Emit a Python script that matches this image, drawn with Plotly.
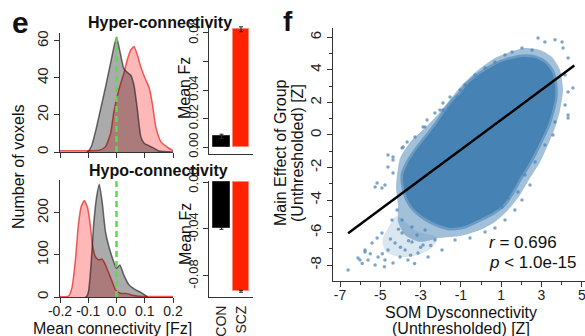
import plotly.graph_objects as go

# ---------------- Panel e : density curves ----------------
hyper_con_x = [-0.105, -0.099, -0.087, -0.073, -0.057, -0.039, -0.021, 0.0, 0.014, 0.026, 0.038, 0.05, 0.062, 0.074, 0.086, 0.098, 0.127, 0.15, 0.2]
hyper_con_y = [0, 0.5, 3.8, 11.9, 22.7, 35, 48, 62, 53, 45, 43, 41.6, 36, 22.7, 8.3, 4.7, 2.5, 0.5, 0]
hyper_scz_x = [-0.2, -0.1, -0.06, -0.039, -0.021, -0.01, 0.008, 0.026, 0.038, 0.05, 0.062, 0.074, 0.086, 0.101, 0.115, 0.127, 0.139, 0.157, 0.181, 0.2]
hyper_scz_y = [0.7, 0.7, 1.0, 2.9, 10, 21, 33.5, 42.5, 49.7, 55, 57, 52.4, 46, 39.8, 35, 26, 13.7, 5.6, 2.5, 0.8]

hypo_con_x = [-0.11, -0.105, -0.099, -0.093, -0.087, -0.081, -0.071, -0.061, -0.051, -0.039, -0.027, -0.01, 0.0, 0.012, 0.026, 0.044, 0.068, 0.086, 0.104, 0.11]
hypo_con_y = [0, 2, 13, 52, 108, 171, 235, 268, 227, 155, 120, 84, 68, 76, 52, 29, 17, 11, 3, 0]
hypo_scz_x = [-0.2, -0.17, -0.158, -0.146, -0.135, -0.125, -0.114, -0.102, -0.093, -0.085, -0.075, -0.063, -0.051, -0.039, -0.027, -0.015, -0.004, 0.014, 0.038, 0.056, 0.08, 0.2]
hypo_scz_y = [1, 2, 21, 84, 171, 215, 229, 211, 171, 124, 96, 88, 90, 76, 56, 36, 17, 9, 8, 4, 1.5, 1]

density_ticks = [-0.2, -0.1, 0.0, 0.1, 0.2]
density_ticktext = ["-0.2", "-0.1", "0.0", "0.1", "0.2"]
hyper_yticks = [0, 20, 40, 60]
hypo_yticks = [0, 100, 200]
zero_line_hyper = [0, 62]
zero_line_hypo = [0, 275]

# ---------------- Panel e : bars ----------------
groups = ["CON", "SCZ"]
hyper_mean = [0.0075, 0.0826]
hyper_err = [0.0015, 0.0017]
hypo_mean = [-0.0395, -0.0930]
hypo_err = [0.0008, 0.0008]
hyper_bar_ticks = [0.0, 0.02, 0.04, 0.06, 0.08]
hyper_bar_ticktext = ["0.00", "0.02", "0.04", "", "0.08"]
hypo_bar_ticks = [0.0, -0.04, -0.08]
hypo_bar_ticktext = ["0.00", "-0.04", "-0.08"]

# ---------------- Panel f : scatter ----------------
core_x = [-3.87, -3.63, -3.38, -3.03, -2.63, -2.24, -1.84, -1.44, -1.04, -0.65, -0.05, 0.69, 1.34, 2.03, 2.68, 3.17, 3.52, 3.67, 3.67, 3.52, 3.32, 3.02, 2.68, 2.33, 1.93, 1.54, 1.09, 0.54, -0.15, -0.80, -1.54, -2.19, -2.78, -3.28, -3.63, -3.82]
core_y = [-2.46, -1.72, -1.23, -0.62, 0.0, 0.62, 1.35, 2.03, 2.52, 3.14, 3.75, 4.31, 4.62, 4.80, 4.74, 4.43, 3.88, 3.08, 2.28, 1.42, 0.62, -0.18, -1.05, -1.85, -2.65, -3.51, -4.31, -4.80, -5.23, -5.60, -5.72, -5.48, -5.11, -4.62, -4.00, -3.26]
halo_x = [-4.02, -3.43, -2.78, -2.04, -1.44, -0.95, -0.15, 0.69, 1.44, 2.18, 2.93, 3.52, 3.92, 4.07, 3.92, 3.67, 3.32, 2.93, 2.43, 1.93, 1.34, 0.69, -0.05, -1.04, -2.04, -3.03, -3.77, -4.12, -4.12, -4.22]
halo_y = [-1.42, -0.31, 0.43, 1.42, 2.34, 3.08, 4.00, 4.74, 5.11, 5.35, 5.23, 4.80, 4.00, 2.77, 1.54, 0.43, -0.62, -1.66, -2.65, -3.69, -4.62, -5.35, -5.85, -6.22, -6.34, -6.58, -6.15, -5.35, -4.31, -3.26]
tail_x = [-4.2, -3.2, -2.2, -2.4, -3.2, -4.0, -4.7, -4.9, -4.6]
tail_y = [-5.0, -5.9, -6.3, -6.9, -7.4, -7.5, -7.2, -6.5, -5.7]
outlier_x = [-6.60, -6.11, -5.76, -5.61, -5.26, -5.11, -5.16, -4.77, -4.62, -4.37, -4.27, -4.02, -3.92, -3.77, -3.63, -3.43, -3.13, -3.18, -2.88, -2.63, -2.29, -1.94,
             -5.26, -4.92, -4.77, -4.37, -4.62, -4.17, -4.42, -4.92, -5.41, -3.92, -3.43, -2.78, -6.01, -5.76, -5.16,
             -4.62, -4.37, -3.87, -2.78, -1.89, -1.19,
             2.83, 3.17, 3.67, 4.02, 4.07, 2.53, 2.03, 1.54, 1.19, 0.69, 0.20, -0.30, -0.80,
             4.32, 4.17, 4.32, 4.17, 4.32, 3.67, 3.57, 3.17, 2.68, 2.18, 1.83, 1.34, 1.04, 0.84, 4.56, 4.32,
             -4.37, -3.92, -3.67, -3.28, -2.88, -2.68, -2.29, -2.04, -1.89, -1.54, -1.04,
             2.43, 2.03, 1.68, 1.19, 0.69, 0.20, -0.55, -1.29,
             -5.5, -4.9, -4.5, -4.0, -3.5, -3.0, -2.5, -4.1, -3.6, -5.9, -4.8, -3.3]
outlier_y = [-8.31, -7.57, -7.08, -7.69, -8.00, -7.51, -6.34, -7.69, -7.08, -7.88, -6.65, -7.51, -6.03, -7.08, -7.69, -6.58, -7.26, -6.15, -6.77, -7.51, -6.46, -7.08,
             -3.20, -3.26, -3.08, -2.34, -1.97, -4.62, -5.23, -6.03, -6.65, -5.23, -5.66, -5.85, -7.69, -7.20, -2.95,
             -1.23, -1.35, -0.74, 0.49, 1.54, 2.34,
             5.97, 5.72, 5.85, 5.72, 5.35, 5.23, 5.35, 5.11, 4.92, 4.49, 4.12, 3.69, 3.08,
             4.74, 3.69, 2.65, 1.85, 1.23, 0.80, 0.0, -0.62, -1.66, -2.46, -3.51, -3.88, -4.43, -4.49, 2.89, 1.05,
             -1.54, -0.80, -0.43, -0.12, 0.49, 0.92, 1.35, 1.54, 1.97, 2.34, 2.77,
             -3.08, -4.00, -4.62, -5.23, -5.72, -5.97, -6.34, -6.46,
             -7.3, -7.3, -6.4, -6.9, -7.4, -6.9, -6.8, -5.8, -6.5, -7.9, -8.1, -7.9]
fit_x = [-6.6, 4.63]
fit_y = [-6.05, 4.27]
r_text = "<i>r</i> = 0.696"
p_text = "<i>p</i> &lt; 1.0e-15"
scatter_xticks = [-7, -5, -3, -1, 1, 3, 5]
scatter_yticks = [-8, -6, -4, -2, 0, 2, 4, 6]

W, H = 585, 336
FONT = "Liberation Sans, Arial, sans-serif"
AX = "#333333"
RED_FILL = "rgba(255,40,40,0.33)"
RED_LINE = "rgba(235,40,40,0.75)"
GRAY_FILL = "rgba(0,0,0,0.33)"
GRAY_LINE = "rgba(30,30,30,0.65)"
GREEN = "#55e045"
STEEL = "#4682b4"


def fx(px):
    return px / W


def fy(py):
    return 1 - py / H


fig = go.Figure()

# density traces
for xs, ys, fc, lc, xa, ya in [
    (hyper_scz_x, hyper_scz_y, RED_FILL, RED_LINE, "x", "y"),
    (hyper_con_x, hyper_con_y, GRAY_FILL, GRAY_LINE, "x", "y"),
    (hypo_scz_x, hypo_scz_y, RED_FILL, RED_LINE, "x2", "y2"),
    (hypo_con_x, hypo_con_y, GRAY_FILL, GRAY_LINE, "x2", "y2"),
]:
    fig.add_trace(go.Scatter(x=xs, y=ys, mode="lines", fill="tozeroy", fillcolor=fc,
                             line=dict(color=lc, width=1.5, shape="spline", smoothing=0.5),
                             xaxis=xa, yaxis=ya, showlegend=False, hoverinfo="skip"))

fig.add_trace(go.Scatter(x=[0, 0], y=zero_line_hyper, mode="lines",
                         line=dict(color=GREEN, width=2.5, dash="6px,4px"),
                         xaxis="x", yaxis="y", showlegend=False))
fig.add_trace(go.Scatter(x=[0, 0], y=zero_line_hypo, mode="lines",
                         line=dict(color=GREEN, width=2.5, dash="6px,4px"),
                         xaxis="x2", yaxis="y2", showlegend=False))

# bars
bar_colors = ["#000000", "#ff2200"]
bar_lines = ["#333333", "#ff8877"]
fig.add_trace(go.Bar(x=[0, 1], y=hyper_mean, width=0.87,
                     marker=dict(color=bar_colors, line=dict(color=bar_lines, width=1)),
                     error_y=dict(type="data", array=hyper_err, color="#222", thickness=1, width=2),
                     xaxis="x3", yaxis="y3", showlegend=False))
fig.add_trace(go.Bar(x=[0, 1], y=hypo_mean, width=0.87,
                     marker=dict(color=bar_colors, line=dict(color=bar_lines, width=1)),
                     error_y=dict(type="data", array=hypo_err, color="#222", thickness=1, width=2),
                     xaxis="x4", yaxis="y4", showlegend=False))

# scatter cloud
fig.add_trace(go.Scatter(x=tail_x + [tail_x[0]], y=tail_y + [tail_y[0]], mode="lines", fill="toself",
                         fillcolor="rgba(70,130,180,0.2)", line=dict(width=0, color="rgba(0,0,0,0)", shape="spline", smoothing=0.8),
                         xaxis="x5", yaxis="y5", showlegend=False, hoverinfo="skip"))
fig.add_trace(go.Scatter(x=halo_x + [halo_x[0]], y=halo_y + [halo_y[0]], mode="lines", fill="toself",
                         fillcolor="rgba(70,130,180,0.5)", line=dict(width=0, color="rgba(0,0,0,0)", shape="spline", smoothing=0.6),
                         xaxis="x5", yaxis="y5", showlegend=False, hoverinfo="skip"))
fig.add_trace(go.Scatter(x=core_x + [core_x[0]], y=core_y + [core_y[0]], mode="lines", fill="toself",
                         fillcolor=STEEL, line=dict(width=5, color="rgba(70,130,180,0.6)", shape="spline", smoothing=0.6),
                         xaxis="x5", yaxis="y5", showlegend=False, hoverinfo="skip"))
fig.add_trace(go.Scatter(x=outlier_x, y=outlier_y, mode="markers",
                         marker=dict(color="rgba(70,130,180,0.7)", size=3.5),
                         xaxis="x5", yaxis="y5", showlegend=False, hoverinfo="skip"))
fig.add_trace(go.Scatter(x=fit_x, y=fit_y, mode="lines", line=dict(color="black", width=2.5),
                         xaxis="x5", yaxis="y5", showlegend=False))

base = dict(showline=True, linecolor=AX, linewidth=1, ticks="outside", tickcolor=AX, ticklen=5,
            tickwidth=1, showgrid=False, zeroline=False, fixedrange=True, automargin=False,
            tickfont=dict(family=FONT, size=15, color="#222"))

dens_xdom = [fx(60), fx(173)]
bar_xdom = [fx(209), fx(253)]

fig.update_layout(
    width=W, height=H, margin=dict(l=0, r=0, t=0, b=0, autoexpand=False),
    paper_bgcolor="white", plot_bgcolor="white", bargap=0,
    xaxis=dict(base, domain=dens_xdom, range=[-0.2, 0.2], tickvals=density_ticks,
               showticklabels=False, anchor="y"),
    yaxis=dict(base, domain=[fy(152), fy(33)], range=[0, 64.3], tickvals=hyper_yticks,
               tickangle=-90, anchor="x"),
    xaxis2=dict(base, domain=dens_xdom, range=[-0.2, 0.2], tickvals=density_ticks,
                ticktext=density_ticktext, ticklabelstandoff=-4,
                tickfont=dict(family=FONT, size=14, color="#222"), anchor="y2"),
    yaxis2=dict(base, domain=[fy(297), fy(180)], range=[0, 278], tickvals=hypo_yticks,
                tickangle=-90, anchor="x2"),
    xaxis3=dict(base, domain=bar_xdom, range=[-0.64, 1.615], ticks="", showticklabels=False,
                anchor="y3"),
    yaxis3=dict(base, domain=[fy(154), fy(25)], range=[-0.0049, 0.0856], tickvals=hyper_bar_ticks,
                ticktext=hyper_bar_ticktext, tickangle=-90,
                tickfont=dict(family=FONT, size=13, color="#222"), anchor="x3"),
    xaxis4=dict(base, domain=bar_xdom, range=[-0.64, 1.615], ticks="", tickvals=[0, 1],
                ticktext=groups, tickangle=-90, ticklabelstandoff=2,
                tickfont=dict(family=FONT, size=14, color="#222"), anchor="y4"),
    yaxis4=dict(base, domain=[fy(297), fy(181)], range=[-0.0979, 0.00085], tickvals=hypo_bar_ticks,
                ticktext=hypo_bar_ticktext, tickangle=-90,
                tickfont=dict(family=FONT, size=13, color="#222"), anchor="x4"),
    xaxis5=dict(base, domain=[fx(333), 1.0], range=[-7.35, 5.16], tickvals=scatter_xticks,
                ticktext=[str(v) for v in scatter_xticks], ticklabeloverflow="allow",
                ticklabelstandoff=-4, tickfont=dict(family=FONT, size=14, color="#222"),
                minor=dict(ticks="outside", dtick=1, tick0=0, ticklen=3, tickcolor=AX),
                anchor="y5"),
    yaxis5=dict(base, domain=[fy(281), fy(28)], range=[-8.98, 6.58], tickvals=scatter_yticks,
                ticktext=[str(v) for v in scatter_yticks], tickangle=-90,
                minor=dict(ticks="outside", dtick=1, tick0=0, ticklen=3, tickcolor=AX),
                anchor="x5"),
)


def ann(text, px, py, size=16, angle=0, xanchor="center", bold=False):
    if bold:
        text = "<b>" + text + "</b>"
    fig.add_annotation(text=text, x=fx(px), y=fy(py), xref="paper", yref="paper",
                       showarrow=False, textangle=angle, xanchor=xanchor, yanchor="middle",
                       font=dict(family=FONT, size=size, color="#111"))


ann("e", 20, 23, size=30, bold=True)
ann("f", 288, 21, size=28, bold=True)
ann("Hyper-connectivity", 160, 23, size=16, bold=True)
ann("Hypo-connectivity", 158, 170, size=16, bold=True)
ann("Number of voxels", 18, 167, angle=-90)
ann("Mean connectivity [Fz]", 112, 328)
ann("Mean Fz", 185, 88, angle=-90)
ann("Mean Fz", 185, 234, angle=-90)
ann("Main Effect of Group", 281, 153, angle=-90)
ann("(Unthresholded) [Z]", 298, 153, angle=-90)
ann("SOM Dysconnectivity", 461, 312)
ann("(Unthresholded) [Z]", 461, 328)
ann(r_text, 487, 242, size=17, xanchor="left")
ann(p_text, 487, 262, size=17, xanchor="left")

fig.write_html("out.html", config={"displayModeBar": False},
               post_script="document.body.style.margin='0';document.body.style.padding='0';document.body.style.overflow='hidden';")
